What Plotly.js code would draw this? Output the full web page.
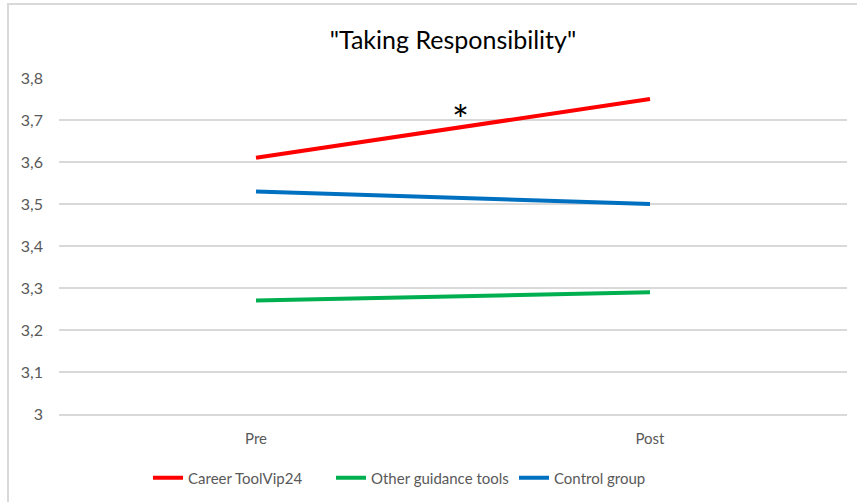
<!DOCTYPE html>
<html>
<head>
<meta charset="utf-8">
<script src="https://cdn.plot.ly/plotly-3.0.1.min.js"></script>
<style>
html,body{margin:0;padding:0;background:#fff;overflow:hidden;}
#wrap{position:absolute;left:0;top:0;width:857px;height:502px;}
#frame{position:absolute;left:7px;top:3px;width:900px;height:600px;border:2px solid #d9d9d9;box-sizing:border-box;pointer-events:none;}
#chart{position:absolute;left:0;top:0;width:857px;height:502px;}
</style>
</head>
<body>
<div id="wrap">
<div id="chart"></div>
<div id="frame"></div>
</div>
<script>
var categories = ["Pre", "Post"];
var careerTool = [3.61, 3.75];
var otherTools = [3.27, 3.29];
var controlGroup = [3.53, 3.50];
var seriesNames = ["Career ToolVip24", "Other guidance tools", "Control group"];
var yTickVals = [3, 3.1, 3.2, 3.3, 3.4, 3.5, 3.6, 3.7, 3.8];
var yTickText = ["3", "3,1", "3,2", "3,3", "3,4", "3,5", "3,6", "3,7", "3,8"];
var starLabel = "*";
var starPos = {x: 0.52, y: 3.70};

var font = "Lato, 'Open Sans', sans-serif";

var traces = [
  {x: categories, y: careerTool, name: seriesNames[0], type: "scatter", mode: "lines",
   line: {color: "#FF0000", width: 4}},
  {x: categories, y: otherTools, name: seriesNames[1], type: "scatter", mode: "lines",
   line: {color: "#00B050", width: 4}},
  {x: categories, y: controlGroup, name: seriesNames[2], type: "scatter", mode: "lines",
   line: {color: "#0070C0", width: 4}}
];

var layout = {
  width: 857, height: 502,
  margin: {l: 59, r: 10, t: 78, b: 88},
  paper_bgcolor: "#ffffff", plot_bgcolor: "#ffffff",
  separators: ", ",
  font: {family: font, size: 15, color: "#595959"},
  title: {text: "\"Taking Responsibility\"", font: {family: font, size: 25, color: "#000000"},
          x: 0.5, xref: "paper", xanchor: "center", y: 1 - 40/502, yref: "container", yanchor: "middle"},
  xaxis: {type: "category", range: [-0.5, 1.5], showgrid: false, zeroline: false,
          showline: true, linecolor: "#d9d9d9", linewidth: 1.5, ticks: "",
          ticklabelstandoff: 10, tickfont: {family: font, size: 15, color: "#595959"}, fixedrange: true},
  yaxis: {range: [3, 3.8], tickmode: "array", tickvals: yTickVals, ticktext: yTickText,
          showgrid: true, gridcolor: "#d9d9d9", gridwidth: 1.5, zeroline: false, showline: false,
          ticks: "", ticklabelstandoff: 15, tickfont: {family: font, size: 16, color: "#595959"}, fixedrange: true},
  showlegend: true,
  legend: {orientation: "h", x: (148 - 59) / 788, xanchor: "left", xref: "paper",
           y: 1 - 478/502, yref: "container", yanchor: "middle", entrywidth: 138, entrywidthmode: "pixels",
           font: {family: font, size: 15, color: "#595959"}, itemwidth: 30, tracegroupgap: 0},
  annotations: [{x: starPos.x, y: starPos.y, xref: "x", yref: "y", text: starLabel, showarrow: false,
                 font: {family: font, size: 40, color: "#000000"}, xanchor: "center", yanchor: "middle"}]
};

Plotly.newPlot("chart", traces, layout, {displayModeBar: false, staticPlot: true});
</script>
</body>
</html>
